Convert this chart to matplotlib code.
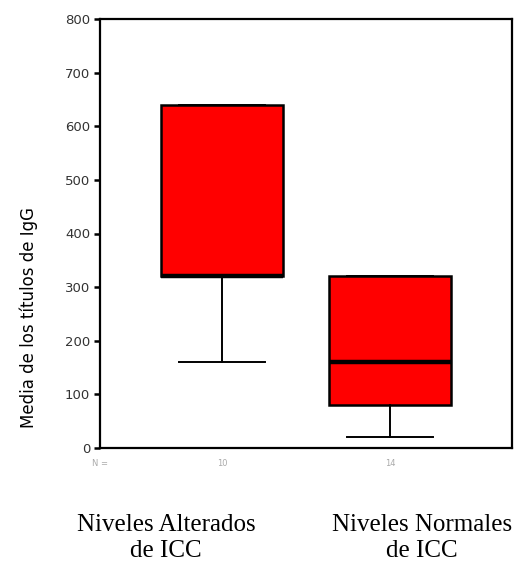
import matplotlib
matplotlib.use("Agg")
import matplotlib.pyplot as plt

groups = ["Niveles Alterados\nde ICC", "Niveles Normales\nde ICC"]
n_counts = ["10", "14"]
q1 = [320, 80]
median = [320, 160]
q3 = [640, 320]
whis_lo = [160, 20]
whis_hi = [640, 320]
yticks = [0, 100, 200, 300, 400, 500, 600, 700, 800]

fig = plt.figure(figsize=(5.16, 5.62), dpi=100)
ax = fig.add_axes([100/516, 1-448/562, 412/516, 429/562])

stats = []
for i in range(len(groups)):
    stats.append(dict(q1=q1[i], med=median[i], q3=q3[i], whislo=whis_lo[i],
                      whishi=whis_hi[i], fliers=[], label=""))
positions = [1, 2]
ax.bxp(stats, positions=positions, widths=0.73, patch_artist=True, showfliers=False,
       boxprops=dict(facecolor="#ff0000", edgecolor="black", linewidth=1.8),
       medianprops=dict(color="black", linewidth=3.2),
       whiskerprops=dict(color="black", linewidth=1.4),
       capprops=dict(color="black", linewidth=1.4), capwidths=0.51)

ax.set_xlim(0.274, 2.726)
ax.set_ylim(0, 800)
ax.set_yticks(yticks)
ax.set_yticklabels([str(t) for t in yticks], fontfamily="DejaVu Sans", fontsize=9.5, color="#333333")
ax.set_xticks([])
ax.tick_params(axis="y", length=4, width=1.8, direction="out", pad=3)
for s in ax.spines.values():
    s.set_linewidth(1.6)
    s.set_color("black")

ax.set_ylabel("Media de los títulos de IgG", fontfamily="DejaVu Sans", fontsize=12)
ax.yaxis.set_label_coords(-62/412, (448-318)/429)

# N counts
tr = ax.get_xaxis_transform()
ax.text(0.274, -0.035, "N =", transform=tr, ha="center", va="center", fontsize=6, color="#aaaaaa")
for p, n in zip(positions, n_counts):
    ax.text(p, -0.035, n, transform=tr, ha="center", va="center", fontsize=6, color="#aaaaaa")

# category labels
label_x = [166/516, 422/516]
for x, g in zip(label_x, groups):
    fig.text(x, 1-538/562, g, ha="center", va="center", fontfamily="Liberation Serif",
             fontsize=18, linespacing=1.2)

fig.savefig("out.png", dpi=100, facecolor="white")
